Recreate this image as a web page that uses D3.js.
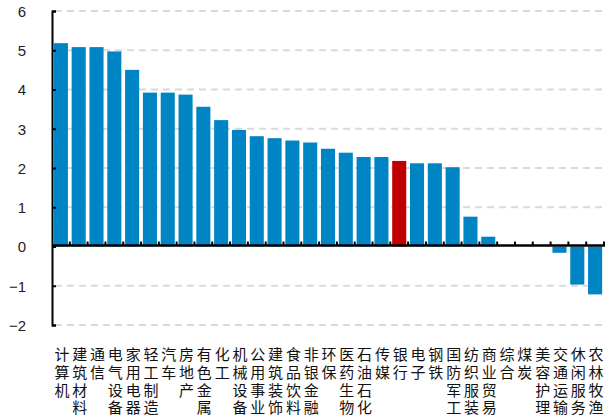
<!DOCTYPE html>
<html>
<head>
<meta charset="utf-8">
<script src="https://cdn.jsdelivr.net/npm/d3@7/dist/d3.min.js"></script>
<style>
  html, body { margin: 0; padding: 0; background: #fff; }
  svg { display: block; }
</style>
</head>
<body>
<svg id="chart" width="607" height="419"></svg>
<script>
// Industry names (申万一级) and their values
const categories = ["计算机", "建筑材料", "通信", "电气设备", "家用电器", "轻工制造", "汽车", "房地产",
  "有色金属", "化工", "机械设备", "公用事业", "建筑装饰", "食品饮料", "非银金融", "环保",
  "医药生物", "石油石化", "传媒", "银行", "电子", "钢铁", "国防军工", "纺织服装",
  "商业贸易", "综合", "煤炭", "美容护理", "交通运输", "休闲服务", "农林牧渔"];
const values = [5.18, 5.08, 5.08, 4.97, 4.50, 3.92, 3.92, 3.87,
  3.56, 3.22, 2.97, 2.81, 2.76, 2.70, 2.65, 2.49,
  2.39, 2.28, 2.28, 2.18, 2.12, 2.12, 2.02, 0.76,
  0.25, 0, 0, 0, -0.16, -0.97, -1.22];
const highlighted = ["银行"];
const yTicks = [-2, -1, 0, 1, 2, 3, 4, 5, 6];

const colors = { bar: "#0085C4", highlight: "#C00000", grid: "#D9D9D9", axis: "#000" };

const svg = d3.select("#chart");
const plotLeft = 52, plotRight = 604, plotTop = 11, plotBottom = 325;

const y = d3.scaleLinear().domain([-2, 6]).range([plotBottom, plotTop]);
const x = d3.scaleBand().domain(categories).range([plotLeft, plotRight])
  .paddingInner(0.21).paddingOuter(0.105);
const step = x.step();

// horizontal dashed grid lines
svg.append("g").selectAll("line")
  .data(yTicks.filter(t => t !== 0))
  .join("line")
  .attr("x1", plotLeft + 3).attr("x2", plotRight)
  .attr("y1", d => y(d)).attr("y2", d => y(d))
  .attr("stroke", colors.grid).attr("stroke-width", 2)
  .attr("stroke-dasharray", "7,5");

// bars
svg.append("g").selectAll("rect")
  .data(categories.map((c, i) => ({ c, v: values[i] })))
  .join("rect")
  .attr("x", d => x(d.c))
  .attr("width", x.bandwidth())
  .attr("y", d => y(Math.max(0, d.v)))
  .attr("height", d => Math.abs(y(d.v) - y(0)))
  .attr("fill", d => highlighted.includes(d.c) ? colors.highlight : colors.bar);

// y axis
const yAxis = d3.axisLeft(y).tickValues(yTicks).tickSize(-4).tickPadding(26)
  .tickFormat(d => d < 0 ? "\u2212" + Math.abs(d) : String(d));
const gy = svg.append("g").attr("transform", `translate(${plotLeft},0)`).call(yAxis);
gy.select(".domain").attr("stroke", colors.axis).attr("stroke-width", 2);
gy.selectAll(".tick line").attr("stroke", colors.axis).attr("stroke-width", 2);
gy.selectAll(".tick text")
  .attr("font-family", "Liberation Sans, Arial, sans-serif")
  .attr("font-size", 15).attr("fill", "#222")
  .attr("text-anchor", "end").attr("x", -26).attr("dy", "0.36em");

// x axis at zero with upward ticks on category boundaries
const boundaries = d3.range(categories.length + 1).map(i => plotLeft + i * step);
const gx = svg.append("g");
gx.append("line")
  .attr("x1", plotLeft).attr("x2", plotRight + 1)
  .attr("y1", y(0) - 1).attr("y2", y(0) - 1)
  .attr("stroke", colors.axis).attr("stroke-width", 2.5);
gx.selectAll(".bt").data(boundaries.slice(1)).join("line")
  .attr("class", "bt")
  .attr("x1", d => d).attr("x2", d => d)
  .attr("y1", y(0) - 1).attr("y2", y(0) - 5)
  .attr("stroke", colors.axis).attr("stroke-width", 2);

// vertical category labels, written top to bottom under each bar
const labelTop = 347;
svg.append("g")
  .attr("font-family", "Noto Sans CJK SC, sans-serif")
  .attr("font-size", 15).attr("fill", "#111")
  .selectAll("text").data(categories).join("text")
  .attr("x", c => x(c) + x.bandwidth() / 2 + 1)
  .attr("y", labelTop)
  .style("writing-mode", "vertical-rl")
  .style("text-orientation", "upright")
  .style("letter-spacing", "2.7px")
  .text(c => c);
</script>
</body>
</html>
